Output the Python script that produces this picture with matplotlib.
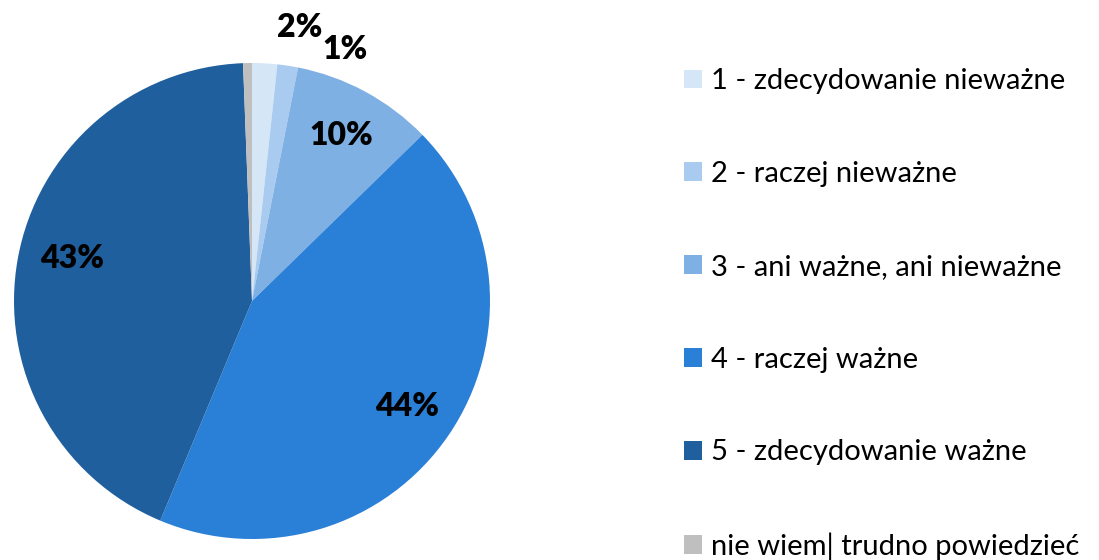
import matplotlib
matplotlib.use("Agg")
import matplotlib.pyplot as plt
from matplotlib.patches import Patch
import numpy as np

categories = ["1 - zdecydowanie nieważne", "2 - raczej nieważne",
              "3 - ani ważne, ani nieważne", "4 - raczej ważne",
              "5 - zdecydowanie ważne", "nie wiem| trudno powiedzieć"]
values = [1.7, 1.4, 9.6, 43.6, 43.1, 0.6]
labels_pct = ["2%", "1%", "10%", "44%", "43%", ""]
colors = ["#D5E6F7", "#A9CBEF", "#7EB0E4", "#2A7FD6", "#1F5F9E", "#BFBFBF"]

plt.rcParams['font.family'] = ['Lato', 'DejaVu Sans']

W, H = 1099, 560
fig = plt.figure(figsize=(W / 100, H / 100), dpi=100)
cx, cy, r = 252, 259, 238
ax = fig.add_axes([(cx - r) / W, (cy - r) / H, 2 * r / W, 2 * r / H])

wedges, _ = ax.pie(values, colors=colors, startangle=90, counterclock=False,
                   radius=1, wedgeprops=dict(linewidth=0))
ax.set_xlim(-1, 1)
ax.set_ylim(-1, 1)
ax.axis('off')

for i, (w, lab) in enumerate(zip(wedges, labels_pct)):
    if not lab:
        continue
    ang = np.deg2rad((w.theta1 + w.theta2) / 2)
    if i == 0:
        x, y = 0.20, 1.15
    elif i == 1:
        x, y = 0.39, 1.055
    elif i == 4:
        x, y = 0.77 * np.cos(ang), 0.77 * np.sin(ang) + 0.04
    else:
        x, y = 0.79 * np.cos(ang), 0.79 * np.sin(ang)
    ax.text(x, y, lab, ha='center', va='center', fontsize=23,
            fontweight='heavy', color='black', clip_on=False)

handles = [Patch(facecolor=c, edgecolor='none') for c in colors]
fig.legend(handles, categories, loc='center left',
           bbox_to_anchor=(669 / W, 0.5 - 34 / H), frameon=False,
           fontsize=21, handlelength=0.62, handleheight=0.62,
           handletextpad=0.33, labelspacing=2.29, borderpad=0)

fig.savefig("out.png", dpi=100)
